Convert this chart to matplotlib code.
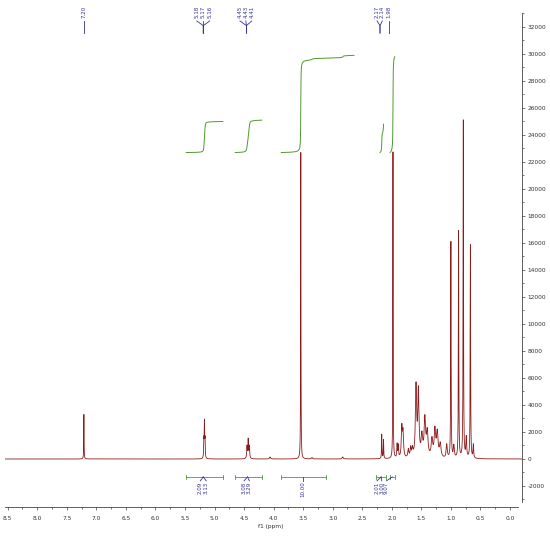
import numpy as np
import matplotlib
matplotlib.use("Agg")
import matplotlib.pyplot as plt
from matplotlib.ticker import MultipleLocator, FuncFormatter

plt.rcParams['axes.unicode_minus'] = False
plt.rcParams['font.family'] = ['DejaVu Sans']

# peak list: position (ppm), height, half width (ppm)
peak_ppm = [7.21, 5.18, 5.17, 5.16, 4.45, 4.43, 4.41, 4.06, 3.54, 3.35, 2.83,
            2.17, 2.14, 1.98, 1.91, 1.89, 1.83, 1.81, 1.72, 1.68, 1.65,
            1.59, 1.55, 1.49, 1.44, 1.40, 1.32, 1.27, 1.23, 1.18, 1.07,
            1.00, 0.95, 0.87, 0.79, 0.74, 0.67, 0.62]
peak_height = [3300, 1300, 2600, 1300, 900, 1400, 900, 150, 22700, 100, 150,
               1800, 1400, 22700, 1000, 900, 2200, 1800, 600, 700, 600,
               5200, 4800, 1500, 2800, 1800, 1300, 2000, 1800, 1000, 1000,
               16000, 900, 16800, 25000, 1500, 15800, 1000]
peak_hw = [0.003, 0.004, 0.004, 0.004, 0.006, 0.006, 0.006, 0.01, 0.003, 0.01, 0.01,
           0.004, 0.004, 0.003, 0.006, 0.006, 0.01, 0.01, 0.01, 0.01, 0.01,
           0.012, 0.012, 0.015, 0.015, 0.015, 0.015, 0.015, 0.015, 0.015, 0.01,
           0.004, 0.01, 0.004, 0.004, 0.008, 0.004, 0.006]

# peak labels on top
pk_text = ["7.20", "5.18", "5.17", "5.16", "4.45", "4.43", "4.41", "2.17", "2.14", "1.98"]
pk_label_x = [7.21, 5.30, 5.19, 5.08, 4.57, 4.47, 4.37, 2.25, 2.16, 2.05]
pk_anchor = [7.21, 5.19, 5.19, 5.19, 4.46, 4.46, 4.46, 2.20, 2.20, 2.05]

# integral curves
curve_lo = [5.48, 4.65, 3.87, 2.20, 2.03]
curve_hi = [4.86, 4.20, 2.64, 2.14, 1.95]
curve_bottom = [22700, 22700, 22700, 22700, 22700]
curve_top = [25000, 25100, 29900, 24800, 29800]

# integral bars and values under the baseline
bar_lo = [5.48, 4.65, 3.87, 2.26, 2.03]
bar_hi = [4.86, 4.20, 3.12, 2.09, 1.95]
bar_hook = [5.19, 4.44, 3.50, 2.18, 1.99]
int_labels = [["2.09", "3.13"], ["3.08", "3.29"], ["10.00"], ["2.01", "3.00"], ["9.07"]]
int_label_x = [[5.24, 5.14], [4.50, 4.41], [3.50], [2.25, 2.17], [2.09]]

spec_color = '#8b1c1c'
int_color = '#4f9a2f'
lab_color = '#33339a'
ax_color = '#444444'

ppm = np.arange(-0.25, 8.6, 0.0005)
spec = np.zeros_like(ppm)
for p, h, w in zip(peak_ppm, peak_height, peak_hw):
    spec += h / (1 + ((ppm - p) / w) ** 2)

fig = plt.figure(figsize=(5.5, 5.36), dpi=100)
ax = fig.add_axes([5 / 550, 29 / 536, 517 / 550, 494 / 536])

ax.plot(ppm, spec, color=spec_color, lw=0.6)
ax.set_xlim(8.545, -0.203)
ax.set_ylim(-3556, 33037)

# integral curves
for lo, hi, y0, y1 in zip(curve_lo, curve_hi, curve_bottom, curve_top):
    m = (ppm <= lo) & (ppm >= hi)
    xs = ppm[m][::-1]
    c = np.cumsum(spec[m][::-1])
    c = (c - c[0]) / (c[-1] - c[0])
    ax.plot(xs, y0 + (y1 - y0) * c, color=int_color, lw=0.7)

# integral bars
ybar = -1330
for lo, hi, hk, labs, lx in zip(bar_lo, bar_hi, bar_hook, int_labels, int_label_x):
    ax.plot([lo, hi], [ybar, ybar], color=int_color, lw=0.6)
    for e in (lo, hi):
        ax.plot([e, e], [ybar - 130, ybar + 130], color=int_color, lw=0.6)
    for t, x in zip(labs, lx):
        ax.plot([hk, x], [ybar, -1620], color=lab_color, lw=0.6)
        ax.text(x, -1650, t, rotation=90, ha='center', va='top',
                fontsize=4, color=lab_color)

# peak labels
for t, x, a in zip(pk_text, pk_label_x, pk_anchor):
    ax.text(x, 32700, t, rotation=90, ha='center', va='bottom',
            fontsize=4, color=lab_color)
    ax.plot([x, a, a], [32450, 32100, 31550], color=lab_color, lw=0.6, clip_on=False)

# axes styling
for s in ('left', 'top'):
    ax.spines[s].set_visible(False)
for s in ('right', 'bottom'):
    ax.spines[s].set_color(ax_color)
    ax.spines[s].set_linewidth(0.6)
ax.spines['bottom'].set_bounds(8.545, -0.14)
ax.spines['right'].set_bounds(-3185, 33037)

ax.yaxis.tick_right()
ax.xaxis.set_major_locator(MultipleLocator(0.5))
ax.xaxis.set_minor_locator(MultipleLocator(0.25))
ax.xaxis.set_major_formatter(FuncFormatter(lambda v, p: f"{v:.1f}"))
ax.yaxis.set_major_locator(MultipleLocator(2000))
ax.yaxis.set_minor_locator(MultipleLocator(1000))
ax.yaxis.set_major_formatter(FuncFormatter(lambda v, p: f"{v:.0f}"))
ax.tick_params(axis='both', which='both', direction='out', colors=ax_color,
               labelsize=4.2, labelcolor='#333333', width=0.5)
ax.tick_params(axis='x', which='major', length=2.2, pad=4)
ax.tick_params(axis='x', which='minor', length=1.2)
ax.tick_params(axis='y', which='major', length=2.2, pad=2)
ax.tick_params(axis='y', which='minor', length=1.2)
ax.set_yticks([t for t in range(-2000, 33000, 2000)])

ax.set_xlabel("f1 (ppm)", fontsize=4.2, color='#333333')
ax.xaxis.set_label_coords(265.5 / 517, -17 / 494)

fig.savefig("out.png", dpi=100)
